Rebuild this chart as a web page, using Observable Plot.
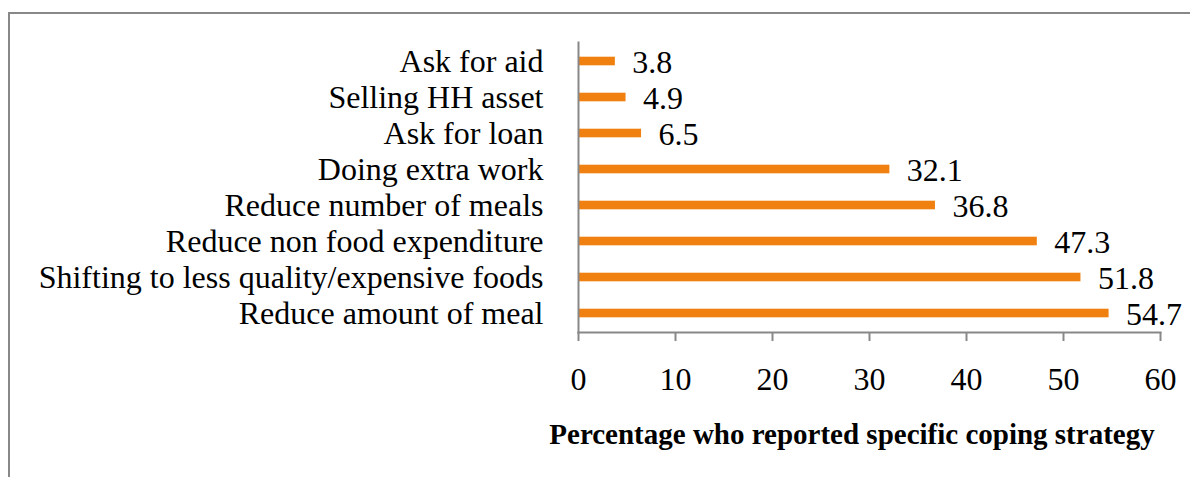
<!DOCTYPE html>
<html>
<head>
<meta charset="utf-8">
<script src="https://cdn.jsdelivr.net/npm/d3@7"></script>
<script src="https://cdn.jsdelivr.net/npm/@observablehq/plot@0.6"></script>
<style>
  html, body { margin: 0; padding: 0; background: #fff; overflow: hidden; }
  #wrap { position: relative; width: 1190px; height: 477px; overflow: hidden; }
  #border { position: absolute; left: 8px; top: 12px; width: 2000px; height: 1000px; border: 2.5px solid #888; box-sizing: border-box; }
  #chart { position: absolute; left: 0; top: 0; }
</style>
</head>
<body>
<div id="wrap"><div id="border"></div><div id="chart"></div></div>
<script>
const categories = [
  "Ask for aid",
  "Selling HH asset",
  "Ask for loan",
  "Doing extra work",
  "Reduce number of meals",
  "Reduce non food expenditure",
  "Shifting to less quality/expensive foods",
  "Reduce amount of meal"
];
const values = [3.8, 4.9, 6.5, 32.1, 36.8, 47.3, 51.8, 54.7];
const xTicks = [0, 10, 20, 30, 40, 50, 60];
const xTitle = "Percentage who reported specific coping strategy";

const data = categories.map((c, i) => ({category: c, value: values[i]}));
const font = "'Liberation Serif', 'Times New Roman', serif";

const chart = Plot.plot({
  width: 1190,
  height: 477,
  marginLeft: 578,
  marginRight: 30,
  marginTop: 42,
  marginBottom: 145,
  style: {fontFamily: font, fontSize: "32px", color: "#000", background: "transparent"},
  x: {domain: [0, 60], ticks: xTicks},
  y: {domain: categories, padding: 0},
  marks: [
    Plot.barX(data, {x: "value", y: "category", fill: "#F08010", insetTop: 13.7, insetBottom: 13.7}),
    Plot.text(data, {x: "value", y: "category", text: d => d.value.toFixed(1), textAnchor: "start", dx: 17, dy: 1, fontSize: 32, fill: "#000"}),
    Plot.frame({anchor: "left", stroke: "#888", strokeWidth: 2}),
    Plot.frame({anchor: "bottom", stroke: "#888", strokeWidth: 2}),
    Plot.axisX({ticks: xTicks, tickSize: 9, tickPadding: 26, stroke: "#888", strokeWidth: 2, fontSize: 32, label: null, tickFormat: d => String(d)}),
    Plot.axisY({tickSize: 0, tickPadding: 35, fontSize: 32, label: null}),
    Plot.text([xTitle], {frameAnchor: "bottom", dx: -17.5, dy: 111, fontSize: 29, fontWeight: "bold", fill: "#000"})
  ]
});
document.getElementById("chart").appendChild(chart);
</script>
</body>
</html>
